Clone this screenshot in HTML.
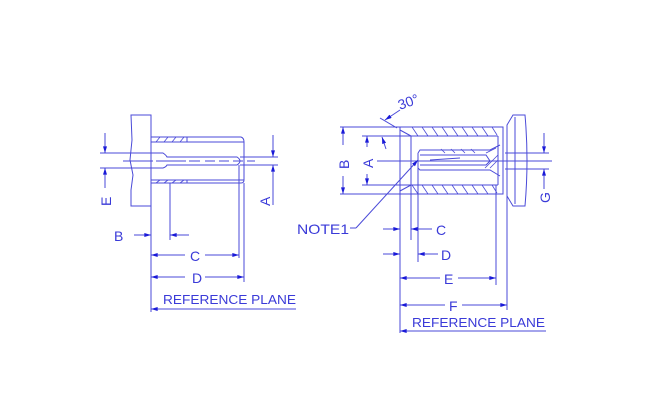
<!DOCTYPE html>
<html><head><meta charset="utf-8"><style>
html,body{margin:0;padding:0;background:#fff;}
svg{display:block;}
text{font-family:"Liberation Sans",sans-serif;fill:#3a3ad8;}
</style></head><body>
<svg width="660" height="402" viewBox="0 0 660 402" xmlns="http://www.w3.org/2000/svg">
<defs>
<marker id="a" viewBox="0 0 10 6" refX="10" refY="3" markerWidth="8" markerHeight="4" orient="auto" markerUnits="userSpaceOnUse"><path d="M0,0 L10,3 L0,6 z" fill="#1a1ad8"/></marker>
</defs>
<g stroke="#4a4ad8" stroke-width="1" fill="none">
<!-- LEFT DRAWING -->
<path d="M131,115 L151,115 L151,206 L131,206 L131,190 L133,175 L130,160 L132,140 Z"/>
<path d="M151,137 L241,137 Q244,138 244,142 L244,180 Q244,183 241,183 L151,183"/>
<line x1="151" y1="142" x2="244" y2="142"/>
<line x1="151" y1="180" x2="244" y2="180"/>
<g stroke-width="0.8">
<line x1="156" y1="142" x2="160" y2="137"/><line x1="164" y1="142" x2="168" y2="137"/><line x1="172" y1="142" x2="176" y2="137"/><line x1="180" y1="142" x2="184" y2="137"/>
<line x1="156" y1="183" x2="160" y2="180"/><line x1="164" y1="183" x2="168" y2="180"/><line x1="172" y1="183" x2="176" y2="180"/><line x1="180" y1="183" x2="184" y2="180"/>
</g>
<line x1="187" y1="137" x2="187" y2="142"/><line x1="187" y1="180" x2="187" y2="183"/>
<path d="M151,153 L163,153 Q166,155 167,157 L237,157 Q240,159 240,161 Q240,163 237,165 L167,165 Q166,167 163,168 L151,168"/>
<line x1="100" y1="153" x2="151" y2="153"/><line x1="100" y1="168" x2="151" y2="168"/>
<line x1="123" y1="161" x2="200" y2="161" stroke-dasharray="30,3"/>
<line x1="205" y1="161" x2="255" y2="161" stroke-dasharray="10,4"/>
<line x1="240" y1="157" x2="278" y2="157"/><line x1="240" y1="165" x2="278" y2="165"/>
<line x1="105" y1="133" x2="105" y2="153" marker-end="url(#a)"/>
<line x1="105" y1="188" x2="105" y2="168" marker-end="url(#a)"/>
<line x1="273" y1="135" x2="273" y2="157" marker-end="url(#a)"/>
<line x1="273" y1="205" x2="273" y2="165" marker-end="url(#a)"/>
<line x1="244" y1="183" x2="244" y2="282"/>
<line x1="239" y1="165" x2="239" y2="258"/>
<line x1="151" y1="206" x2="151" y2="312"/>
<line x1="170" y1="183" x2="170" y2="240"/>
<line x1="134" y1="235" x2="151" y2="235" marker-end="url(#a)"/>
<line x1="189" y1="235" x2="170" y2="235" marker-end="url(#a)"/>
<line x1="185" y1="255" x2="151" y2="255" marker-end="url(#a)"/>
<line x1="205" y1="255" x2="239" y2="255" marker-end="url(#a)"/>
<line x1="185" y1="277" x2="151" y2="277" marker-end="url(#a)"/>
<line x1="205" y1="277" x2="244" y2="277" marker-end="url(#a)"/>
<line x1="296" y1="309" x2="151" y2="309" marker-end="url(#a)"/>

<!-- RIGHT DRAWING -->
<path d="M400,127 L503,127 L503,194 L400,194 Z"/>
<line x1="411" y1="136" x2="498" y2="136"/>
<line x1="411" y1="185" x2="498" y2="185"/>
<line x1="411" y1="136" x2="411" y2="185"/>
<line x1="498" y1="136" x2="498" y2="185"/>
<line x1="400" y1="130" x2="411" y2="136"/><line x1="400" y1="191" x2="411" y2="185"/>
<g stroke-width="0.8">
<line x1="418" y1="136" x2="412" y2="127"/><line x1="428" y1="136" x2="422" y2="127"/><line x1="438" y1="136" x2="432" y2="127"/><line x1="448" y1="136" x2="442" y2="127"/><line x1="458" y1="136" x2="452" y2="127"/><line x1="468" y1="136" x2="462" y2="127"/><line x1="478" y1="136" x2="472" y2="127"/><line x1="488" y1="136" x2="482" y2="127"/><line x1="497" y1="135" x2="492" y2="127"/>
<line x1="418" y1="194" x2="412" y2="185"/><line x1="428" y1="194" x2="422" y2="185"/><line x1="438" y1="194" x2="432" y2="185"/><line x1="448" y1="194" x2="442" y2="185"/><line x1="458" y1="194" x2="452" y2="185"/><line x1="468" y1="194" x2="462" y2="185"/><line x1="478" y1="194" x2="472" y2="185"/><line x1="488" y1="194" x2="482" y2="185"/><line x1="497" y1="193" x2="492" y2="185"/>
<line x1="445" y1="153" x2="441" y2="149"/><line x1="455" y1="153" x2="451" y2="149"/><line x1="465" y1="153" x2="461" y2="149"/><line x1="475" y1="153" x2="471" y2="149"/>
<line x1="485" y1="168" x2="498" y2="155"/><line x1="490" y1="168" x2="498" y2="160"/><line x1="486" y1="153" x2="496" y2="148"/>
</g>
<path d="M418,153 L420,150 L490,150 L500,145 M418,168 L420,170 L490,170 L500,176"/>
<line x1="418" y1="153" x2="418" y2="168"/>
<path d="M420,155 L486,155 L490,161 L486,165 L420,165"/>
<line x1="430" y1="160" x2="460" y2="158"/>
<line x1="377" y1="161" x2="552" y2="161"/>
<path d="M513,115 L525,115 Q529,160 525,206 L513,206 L507,196 L507,125 Z"/>
<line x1="515" y1="117" x2="515" y2="204"/>
<line x1="505" y1="153" x2="549" y2="153"/><line x1="505" y1="169" x2="549" y2="169"/>
<line x1="544" y1="133" x2="544" y2="153" marker-end="url(#a)"/>
<line x1="544" y1="189" x2="544" y2="169" marker-end="url(#a)"/>
<line x1="340" y1="127" x2="400" y2="127"/><line x1="340" y1="194" x2="400" y2="194"/>
<line x1="362" y1="136" x2="411" y2="136"/><line x1="362" y1="185" x2="411" y2="185"/>
<line x1="343" y1="145" x2="343" y2="127" marker-end="url(#a)"/>
<line x1="343" y1="176" x2="343" y2="194" marker-end="url(#a)"/>
<line x1="367" y1="147" x2="367" y2="136" marker-end="url(#a)"/>
<line x1="367" y1="174" x2="367" y2="185" marker-end="url(#a)"/>
<line x1="386" y1="149" x2="382" y2="137" marker-end="url(#a)"/>
<line x1="380" y1="118" x2="397" y2="128"/>
<line x1="400" y1="110" x2="385" y2="120" marker-end="url(#a)"/>
<line x1="350" y1="228" x2="356" y2="228"/>
<line x1="356" y1="228" x2="418" y2="160" marker-end="url(#a)"/>
<line x1="400" y1="194" x2="400" y2="333"/>
<line x1="411" y1="185" x2="411" y2="240"/>
<line x1="418" y1="168" x2="418" y2="262"/>
<line x1="496" y1="185" x2="496" y2="285"/>
<line x1="507" y1="196" x2="507" y2="310"/>
<line x1="383" y1="229" x2="400" y2="229" marker-end="url(#a)"/>
<line x1="432" y1="229" x2="411" y2="229" marker-end="url(#a)"/>
<line x1="383" y1="254" x2="400" y2="254" marker-end="url(#a)"/>
<line x1="438" y1="254" x2="418" y2="254" marker-end="url(#a)"/>
<line x1="440" y1="278" x2="400" y2="278" marker-end="url(#a)"/>
<line x1="458" y1="278" x2="496" y2="278" marker-end="url(#a)"/>
<line x1="445" y1="305" x2="400" y2="305" marker-end="url(#a)"/>
<line x1="462" y1="305" x2="507" y2="305" marker-end="url(#a)"/>
<line x1="546" y1="331" x2="400" y2="331" marker-end="url(#a)"/>
</g>
<g font-size="14">
<text x="114" y="241">B</text>
<text x="190" y="261">C</text>
<text x="192" y="283">D</text>
<text x="163" y="304" font-size="12.5" textLength="133" lengthAdjust="spacingAndGlyphs">REFERENCE  PLANE</text>
<text transform="translate(111,206) rotate(-90)">E</text>
<text transform="translate(270,206) rotate(-90)">A</text>
<text transform="translate(349,169) rotate(-90)">B</text>
<text transform="translate(373,168) rotate(-90)">A</text>
<text transform="translate(550,203) rotate(-90)">G</text>
<text transform="translate(400,110) rotate(-20)">30°</text>
<text x="297" y="234" textLength="52" lengthAdjust="spacingAndGlyphs">NOTE1</text>
<text x="436" y="235">C</text>
<text x="441" y="260">D</text>
<text x="444" y="284">E</text>
<text x="449" y="311">F</text>
<text x="412" y="327" font-size="12.5" textLength="133" lengthAdjust="spacingAndGlyphs">REFERENCE  PLANE</text>
</g>
</svg>
</body></html>
